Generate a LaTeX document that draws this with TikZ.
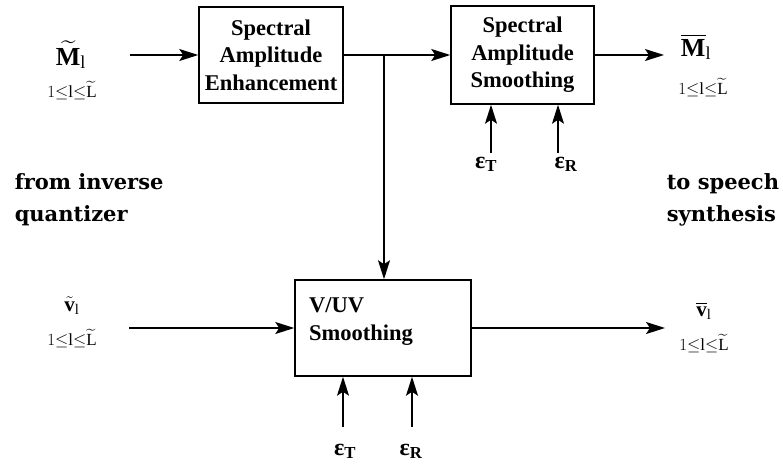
\RequirePackage{fix-cm}
\documentclass[tikz,border=0pt]{standalone}
\usepackage{amsmath,amssymb,bm}
\usepackage{fontspec}
\setmainfont{Liberation Serif}
\newfontfamily\sidefont{DejaVu Serif}
\usetikzlibrary{arrows.meta,positioning}

\begin{document}
\begin{tikzpicture}[x=1pt, y=-1pt, >={Stealth[length=19pt,width=12pt,inset=4pt]}, line width=1.5pt,
    blk/.style={draw, line width=1.5pt, inner sep=0pt, align=center, font=\bfseries\fontsize{22.5}{27.5}\selectfont},
    boxtxt/.style={inner sep=0pt, align=left, font=\bfseries\fontsize{22.5}{28}\selectfont},
    sym/.style={inner sep=0pt, anchor=base, font=\fontsize{26}{30}\selectfont},
    rng/.style={inner sep=0pt, anchor=base, font=\fontsize{17}{20}\selectfont},
    eps/.style={inner sep=0pt, anchor=base, font=\bfseries\fontsize{24}{28}\selectfont},
    side/.style={inner sep=0pt, anchor=base west, align=left, font=\sidefont\bfseries\fontsize{21}{32}\selectfont}]
    \useasboundingbox (0,0) rectangle (783,464);

    % processing blocks
    \node[blk, minimum width=144pt, minimum height=96pt] (enh) at (271,55) {Spectral\\Amplitude\\Enhancement};
    \node[blk, minimum width=143pt, minimum height=98pt] (sms) at (522.5,55) {Spectral\\Amplitude\\Smoothing};
    \node[blk, minimum width=176pt, minimum height=96pt] (vuv) at (383,328) {};
    \node[boxtxt, below right=18pt and 14pt of vuv.north west] (vuvtxt) {V/UV\\Smoothing};

    % inputs and outputs
    \node[sym] (Mtil) at (71,65) {$\widetilde{\mathbf{M}}_{\mathrm{l}}$};
    \node[rng] (MtilR) at (72,97) {$1{\leq}\mathrm{l}{\leq}\widetilde{\mathrm{L}}$};
    \node[sym] (Mbar) at (696,56) {$\overline{\mathbf{M}}_{\mathrm{l}}$};
    \node[rng] (MbarR) at (703,94) {$1{\leq}\mathrm{l}{\leq}\widetilde{\mathrm{L}}$};
    \node[sym, font=\fontsize{21}{24}\selectfont] (vtil) at (72,311) {$\tilde{\mathbf{v}}_{\mathrm{l}}$};
    \node[rng] (vtilR) at (72,345) {$1{\leq}\mathrm{l}{\leq}\widetilde{\mathrm{L}}$};
    \node[sym, font=\fontsize{21}{24}\selectfont] (vbar) at (704,316) {$\overline{\mathbf{v}}_{\mathrm{l}}$};
    \node[rng] (vbarR) at (704,350) {$1{\leq}\mathrm{l}{\leq}\widetilde{\mathrm{L}}$};

    % side notes
    \node[side] (src) at (14,221) {from inverse\\quantizer};
    \node[side] (dst) at (666,221) {to speech\\synthesis};

    % thresholds
    \node[eps] (eT1) at (486,168) {ε$_{\mathbf{T}}$};
    \node[eps] (eR1) at (566,168) {ε$_{\mathbf{R}}$};
    \node[eps] (eT2) at (345,455) {ε$_{\mathbf{T}}$};
    \node[eps] (eR2) at (411,455) {ε$_{\mathbf{R}}$};

    % signal path
    \coordinate (Min) at (130,55);
    \coordinate (Br) at (384,55);
    \coordinate (Mout) at (664,55);
    \coordinate (Vin) at (129,328);
    \coordinate (Vout) at (665,328);
    \draw[->] (Min) -- (enh.west);
    \draw[->] (enh.east) -- (sms.west);
    \draw[->] (Br) -- (Br |- vuv.north);
    \draw[->] (sms.east) -- (Mout);
    \draw[->] (Vin) -- (vuv.west);
    \draw[->] (vuv.east) -- (Vout);

    % threshold arrows
    \coordinate (aT) at (491,153);
    \coordinate (aR) at (558,153);
    \coordinate (bT) at (343,427);
    \coordinate (bR) at (412,427);
    \draw[->] (aT) -- (aT |- sms.south);
    \draw[->] (aR) -- (aR |- sms.south);
    \draw[->] (bT) -- (bT |- vuv.south);
    \draw[->] (bR) -- (bR |- vuv.south);
\end{tikzpicture}
\end{document}
